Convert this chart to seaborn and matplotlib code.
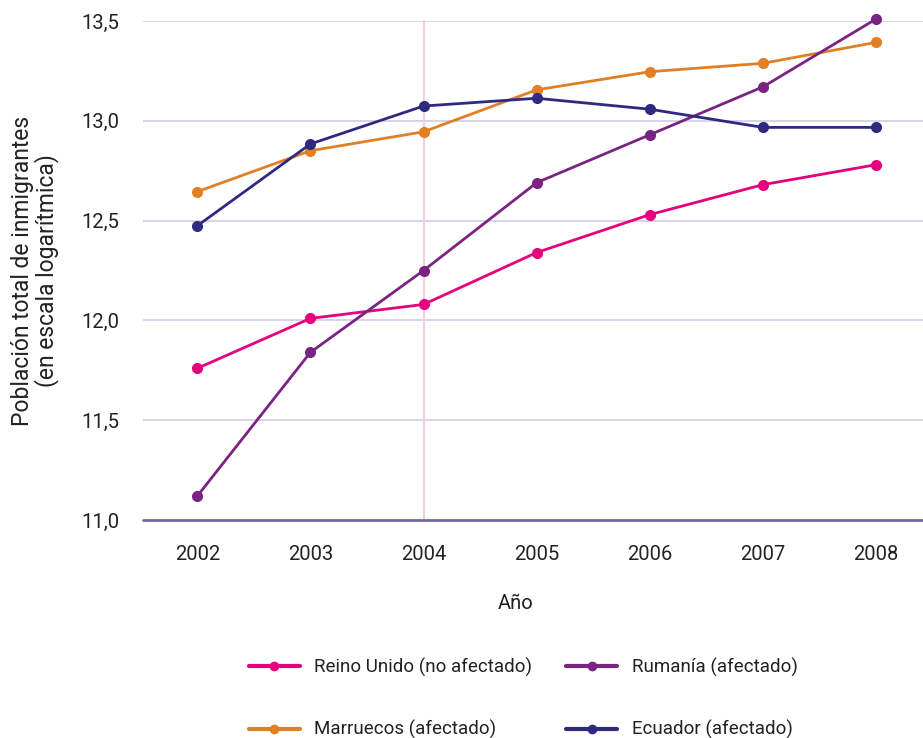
import matplotlib
matplotlib.use("Agg")
import matplotlib.pyplot as plt
import seaborn as sns
import pandas as pd
from matplotlib.lines import Line2D
from matplotlib.ticker import FixedLocator, FuncFormatter

years = [2002, 2003, 2004, 2005, 2006, 2007, 2008]
reino_unido = [11.76, 12.01, 12.08, 12.34, 12.53, 12.68, 12.78]
rumania = [11.12, 11.84, 12.25, 12.69, 12.93, 13.17, 13.51]
marruecos = [12.645, 12.85, 12.945, 13.155, 13.246, 13.288, 13.393]
ecuador = [12.474, 12.884, 13.074, 13.113, 13.058, 12.967, 12.967]

series_names = ["Reino Unido (no afectado)", "Marruecos (afectado)",
                "Rumanía (afectado)", "Ecuador (afectado)"]
series_values = [reino_unido, marruecos, rumania, ecuador]
colors = ["#e5007d", "#e07f24", "#7b2382", "#2e2a80"]
y_ticks = [11.0, 11.5, 12.0, 12.5, 13.0, 13.5]

rows = []
for name, vals in zip(series_names, series_values):
    for yr, v in zip(years, vals):
        rows.append({"Año": yr, "valor": v, "serie": name})
df = pd.DataFrame(rows)

sns.set_theme(style="white")
plt.rcParams["font.family"] = ["Roboto", "DejaVu Sans"]

fig = plt.figure(figsize=(9.23, 7.38), dpi=100)
ax = fig.add_axes([143 / 923, 1 - 520 / 738, 1 - 143 / 923, (520 - 21) / 738])

# vertical reference line at 2004
ax.axvline(2004, color="#f9cde0", lw=1.5, zorder=1)

sns.lineplot(data=df, x="Año", y="valor", hue="serie", hue_order=series_names,
             palette=colors, marker="o", markersize=8, markeredgewidth=0,
             linewidth=2.0, legend=False, ax=ax, zorder=3)
for ln in ax.get_lines():
    ln.set_clip_on(False)

ax.set_xlim(2001.52, 2008.415)
ax.set_ylim(11.0, 13.5)
ax.yaxis.set_major_locator(FixedLocator(y_ticks))
ax.yaxis.set_major_formatter(FuncFormatter(lambda v, p: f"{v:.1f}".replace(".", ",")))
ax.set_xticks(years)
ax.set_xticklabels([str(y) for y in years])

for t in y_ticks[1:]:
    ax.axhline(t, color="#d3d0e8", lw=1.3, zorder=0)
ax.axhline(11.0, color="#6e6ba3", lw=2.0, zorder=2, clip_on=False)

for s in ax.spines.values():
    s.set_visible(False)
ax.grid(False)
ax.tick_params(axis="y", length=0, pad=17, labelsize=14.5, colors="#222222")
ax.tick_params(axis="x", length=0, pad=18, labelsize=14.5, colors="#222222")

ax.set_ylabel("Población total de inmigrantes\n(en escala logarítmica)",
              fontsize=16.5, color="#222222", linespacing=1.0)
ax.yaxis.set_label_coords(-0.108, 0.5)
ax.set_xlabel("Año", fontsize=14.5, color="#222222")
ax.xaxis.set_label_coords(0.478, -0.148)

handles = [Line2D([0], [0], color=c, lw=3, marker="o", markersize=7,
                  markeredgewidth=0) for c in colors]
leg = fig.legend(handles, series_names, loc="upper left",
                 bbox_to_anchor=(232 / 923, 1 - 641 / 738), ncol=2,
                 frameon=False, fontsize=13.5, handlelength=2.7,
                 handletextpad=0.8, columnspacing=1.8, labelspacing=2.3)
for t in leg.get_texts():
    t.set_color("#222222")

fig.savefig("out.png", dpi=100)
